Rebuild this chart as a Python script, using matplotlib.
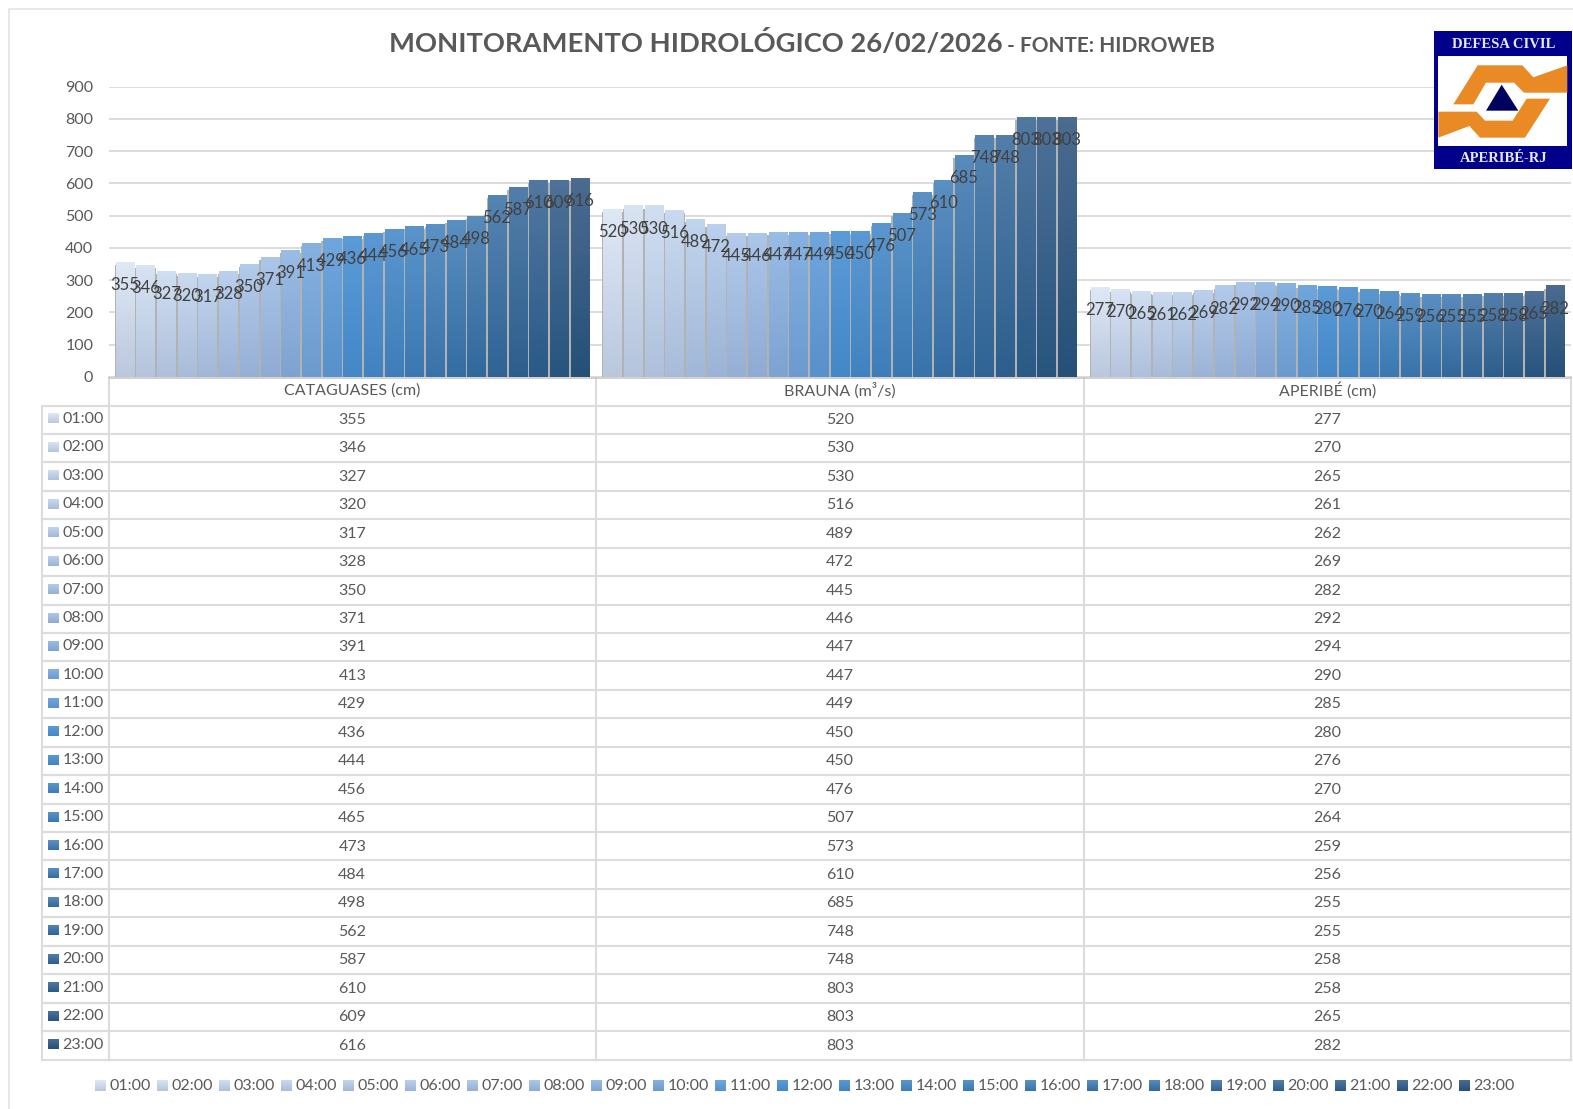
import numpy as np
import matplotlib
matplotlib.use('Agg')
import matplotlib.pyplot as plt
from matplotlib.colors import LinearSegmentedColormap
from matplotlib.patches import Polygon, Rectangle

plt.rcParams['font.family'] = ['Lato', 'DejaVu Sans']

hours = ['01:00', '02:00', '03:00', '04:00', '05:00', '06:00', '07:00', '08:00',
         '09:00', '10:00', '11:00', '12:00', '13:00', '14:00', '15:00', '16:00',
         '17:00', '18:00', '19:00', '20:00', '21:00', '22:00', '23:00']
stations = ['CATAGUASES (cm)', 'BRAUNA (m³/s)', 'APERIBÉ (cm)']
cataguases = [355, 346, 327, 320, 317, 328, 350, 371, 391, 413, 429, 436,
              444, 456, 465, 473, 484, 498, 562, 587, 610, 609, 616]
brauna = [520, 530, 530, 516, 489, 472, 445, 446, 447, 447, 449, 450,
          450, 476, 507, 573, 610, 685, 748, 748, 803, 803, 803]
aperibe = [277, 270, 265, 261, 262, 269, 282, 292, 294, 290, 285, 280,
           276, 270, 264, 259, 256, 255, 255, 258, 258, 265, 282]
yticks = [0, 100, 200, 300, 400, 500, 600, 700, 800, 900]

series = [cataguases, brauna, aperibe]
W, H = 1573, 1109
GRAY = '#595959'
LINE = '#dcdcdc'

top_cmap = LinearSegmentedColormap.from_list(
    't', [(0, '#dfe8f5'), (0.33, '#a9c5e8'), (0.5, '#5b9bd8'), (0.75, '#5a8ebf'), (1, '#4b6b90')])
bot_cmap = LinearSegmentedColormap.from_list(
    'b', [(0, '#bac8de'), (0.33, '#8eaad3'), (0.5, '#4488c8'), (0.75, '#336b9f'), (1, '#255078')])


def gradient(i):
    t = i / (len(hours) - 1)
    top = np.array(top_cmap(t)[:3])
    bot = np.array(bot_cmap(t)[:3])
    return np.linspace(top, bot, 64).reshape(64, 1, 3)


fig = plt.figure(figsize=(W / 100, H / 100), dpi=100)

# chart area
left, right, top, bottom = 108.5, 1571, 86.5, 377
ax = fig.add_axes([left / W, 1 - bottom / H, (right - left) / W, (bottom - top) / H])
step = 0.0424
width = 0.0372
for g, vals in enumerate(series):
    for i, v in enumerate(vals):
        x = g + (i - 11) * step
        # shadow behind the bar, fills the gap to the next one
        ax.bar(x, v - 8, width=step, color='#b2b2b2', zorder=2)
        b = ax.bar(x, v, width=width, color='none', zorder=3)[0]
        ax.imshow(gradient(i), extent=[b.get_x(), b.get_x() + width, 0, v],
                  aspect='auto', zorder=3)
        ax.text(x, v - 70, str(v), ha='center', va='center', fontsize=12,
                color='#404040', zorder=5)
ax.set_xlim(-0.5, 2.5)
ax.set_ylim(0, 900)
ax.set_yticks(yticks)
ax.set_xticks([])
ax.tick_params(axis='y', length=0, labelsize=11.5, labelcolor=GRAY, pad=11)
ax.grid(axis='y', color=LINE, lw=1.4, zorder=1)
ax.set_axisbelow(True)
for s in ax.spines.values():
    s.set_visible(False)

# overlay in pixel coordinates: frame, title, table, legend, logo
ov = fig.add_axes([0, 0, 1, 1], zorder=5)
ov.set_xlim(0, W)
ov.set_ylim(H, 0)
ov.axis('off')
ov.patch.set_alpha(0)

ov.plot([8.5, 8.5, W], [H, 8.5, 8.5], color='#e4e4e4', lw=1.2)

ov.text(389, 43, 'MONITORAMENTO HIDROLÓGICO 26/02/2026', fontsize=19.7, fontweight='bold',
        color=GRAY, ha='left', va='center')
ov.text(1007, 46, '- FONTE: HIDROWEB', fontsize=15, fontweight='bold',
        color=GRAY, ha='left', va='center')

# table
col_x = [left, 596, 1083.5, right]
row_top = 405.5
row_bottom = 1059.5
row_h = (row_bottom - row_top) / len(hours)
table_left = 41.5
for x in col_x:
    ov.plot([x, x], [bottom, row_bottom], color=LINE, lw=1.5)
ov.plot([table_left, table_left], [row_top, row_bottom], color=LINE, lw=1.5)
ov.plot([left, right], [row_top, row_top], color=LINE, lw=1.5)
ov.plot([left, right], [bottom + 0.5, bottom + 0.5], color='#c8c8c8', lw=1.2)
for c, name in enumerate(stations):
    ov.text((col_x[c] + col_x[c + 1]) / 2, 390.5, name, ha='center', va='center',
            fontsize=11.5, color=GRAY)
for r, hour in enumerate(hours):
    y0 = row_top + r * row_h
    y1 = y0 + row_h
    ov.plot([table_left, right], [y1, y1], color=LINE, lw=1.5)
    ov.plot([table_left, left], [y0, y0], color=LINE, lw=1.5)
    ov.imshow(gradient(r), extent=[48, 59, y0 + 18, y0 + 8], aspect='auto', zorder=3)
    ov.text(62.5, y0 + 13.5, hour, ha='left', va='center', fontsize=11.5, color=GRAY)
    for c, vals in enumerate(series):
        ov.text((col_x[c] + col_x[c + 1]) / 2, y0 + 14.5, str(vals[r]), ha='center',
                va='center', fontsize=11.5, color=GRAY)

# legend
leg_x0 = 94.5
leg_step = 62
for i, hour in enumerate(hours):
    x = leg_x0 + i * leg_step
    ov.imshow(gradient(i), extent=[x, x + 11, 1091, 1080], aspect='auto', zorder=3)
    ov.text(x + 15, 1086, hour, ha='left', va='center', fontsize=11.5, color=GRAY)

# logo
ov.add_patch(Rectangle((1434, 30.5), 138, 138, color='#00008b', zorder=6, lw=0))
ov.add_patch(Rectangle((1437.5, 56), 129.5, 90, color='white', zorder=7, lw=0))


def zoomed(points):
    return [(1050 + px / 3, py / 3) for px, py in points]


upper = [(1210, 313), (1283, 196), (1417, 196), (1450, 232), (1552, 196), (1552, 278),
         (1422, 278), (1392, 248), (1308, 248), (1270, 313)]
lower = [(1165, 335), (1280, 335), (1305, 362), (1388, 362), (1430, 296), (1500, 296),
         (1425, 413), (1290, 413), (1258, 378), (1165, 413)]
tri = [(1355, 254), (1308, 332), (1405, 332)]
ov.add_patch(Polygon(zoomed(upper), color='#e98a24', zorder=8, lw=0))
ov.add_patch(Polygon(zoomed(lower), color='#e98a24', zorder=8, lw=0))
ov.add_patch(Polygon(zoomed(tri), color='#00005f', zorder=8, lw=0))
ov.text(1503.5, 45, 'DEFESA CIVIL', family='Liberation Serif', fontweight='bold', fontsize=10.5,
        color='#e8e8f4', ha='center', va='center', zorder=8)
ov.text(1503.5, 158.5, 'APERIBÉ-RJ', family='Liberation Serif', fontweight='bold', fontsize=10.5,
        color='#e8e8f4', ha='center', va='center', zorder=8)
ov.set_xlim(0, W)
ov.set_ylim(H, 0)

fig.savefig('out.png', dpi=100)
